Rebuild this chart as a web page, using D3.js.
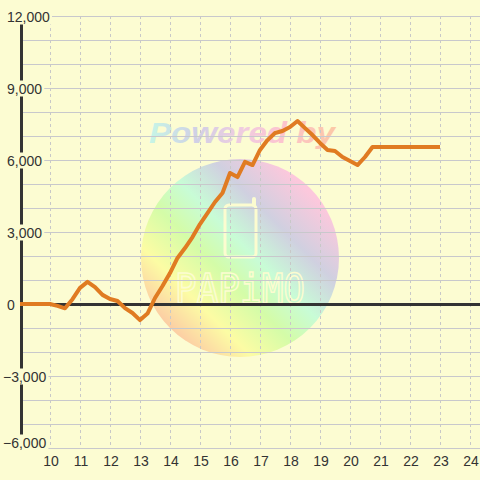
<!DOCTYPE html>
<html><head><meta charset="utf-8">
<script src="https://cdn.jsdelivr.net/npm/d3@7"></script>
<style>html,body{margin:0;padding:0;background:#fcfcd2;}svg{display:block;}</style>
</head><body><svg id="c" width="480" height="480"></svg>
<script>
const times = [9.0, 10.0, 10.25, 10.5, 10.75, 11.0, 11.25, 11.5, 11.75, 12.0, 12.25, 12.5, 12.75, 13.0,
  13.25, 13.5, 13.75, 14.0, 14.25, 14.5, 14.75, 15.0, 15.25, 15.5, 15.75, 16.0, 16.25, 16.5, 16.75,
  17.0, 17.25, 17.5, 17.75, 18.0, 18.25, 18.5, 18.75, 19.0, 19.25, 19.5, 19.75, 20.0, 20.25, 20.5,
  20.75, 21.0, 22.0, 23.0];
const values = [0, 0, -80, -180, 200, 670, 920, 700, 380, 210, 125, -170, -375, -670,
  -400, 250, 750, 1290, 1920, 2330, 2790, 3330, 3790, 4250, 4625, 5460, 5290, 5920, 5790,
  6420, 6830, 7125, 7210, 7375, 7625, 7330, 7040, 6710, 6420, 6375, 6125, 5960, 5790, 6125,
  6540, 6540, 6540, 6540];
const xTicks = [10, 11, 12, 13, 14, 15, 16, 17, 18, 19, 20, 21, 22, 23, 24];
const yLabelTicks = [12000, 9000, 6000, 3000, 0, -3000, -6000];
const yGridTicks = [-6000, -5000, -4000, -3000, -2000, -1000, 0, 1000, 2000, 3000, 4000, 5000,
  6000, 7000, 8000, 9000, 10000, 11000, 12000];

const bg = "#fcfcd2";
const svg = d3.select("#c");
const x = d3.scaleLinear().domain([9, 24.3333]).range([20, 480]);
const y = d3.scaleLinear().domain([-6000, 12000]).range([448, 16]);

svg.append("rect").attr("width", 480).attr("height", 480).attr("fill", bg);

// watermark
const defs = svg.append("defs");
const cg = defs.append("linearGradient").attr("id", "cg")
  .attr("x1", 0).attr("y1", 1).attr("x2", 1).attr("y2", 0);
[[0.12, "#fcc4a4"], [0.28, "#fcfca4"], [0.42, "#d4fca8"], [0.54, "#c8fcd6"],
 [0.68, "#d0d0e0"], [0.84, "#fcc8dc"]].forEach(([o, c]) =>
  cg.append("stop").attr("offset", o).attr("stop-color", c));
const tg = defs.append("linearGradient").attr("id", "tg")
  .attr("x1", 0).attr("y1", 0).attr("x2", 1).attr("y2", 0);
[[0, "#c6f6e6"], [0.25, "#d0d0e6"], [0.5, "#f0cce0"], [0.7, "#fcc4d0"], [1, "#fcc8a4"]]
  .forEach(([o, c]) => tg.append("stop").attr("offset", o).attr("stop-color", c));

const wm = svg.append("g");
wm.append("circle").attr("cx", 240).attr("cy", 258).attr("r", 99).attr("fill", "url(#cg)");
wm.append("rect").attr("x", 225).attr("y", 205).attr("width", 31).attr("height", 52)
  .attr("rx", 4).attr("fill", "none").attr("stroke", "#fcfcd0").attr("stroke-width", 3);
wm.append("path").attr("d", "M254,205 V199").attr("stroke", "#fcfcd0")
  .attr("stroke-width", 4).attr("stroke-linecap", "round");
wm.append("text").attr("x", 175).attr("y", 303).text("PAPiMO")
  .attr("font-family", "DejaVu Sans Mono").attr("font-size", 40)
  .attr("textLength", 130).attr("lengthAdjust", "spacingAndGlyphs")
  .attr("fill", "none").attr("stroke", "#fcfcd0").attr("stroke-width", 1.6);
wm.append("text").attr("x", 149).attr("y", 143).text("Powered by")
  .attr("font-family", "Liberation Sans, Arial").attr("font-size", 30)
  .attr("font-weight", "bold").attr("font-style", "italic")
  .attr("textLength", 186).attr("lengthAdjust", "spacingAndGlyphs")
  .attr("fill", "url(#tg)");

// grid
svg.append("g").selectAll("line").data(yGridTicks).join("line")
  .attr("x1", 20).attr("x2", 480).attr("y1", d => y(d) + 0.5).attr("y2", d => y(d) + 0.5)
  .attr("stroke", "#c8c8cc").attr("stroke-width", 1);
svg.append("g").selectAll("line").data(xTicks).join("line")
  .attr("x1", d => x(d) + 0.5).attr("x2", d => x(d) + 0.5).attr("y1", 16).attr("y2", 448)
  .attr("stroke", "#c8c8c8").attr("stroke-width", 1).attr("stroke-dasharray", "3,3");

// zero line and y axis line
svg.append("line").attr("x1", 20).attr("x2", 480).attr("y1", y(0) + 0.5).attr("y2", y(0) + 0.5)
  .attr("stroke", "#333").attr("stroke-width", 3);
svg.append("line").attr("x1", 21.5).attr("x2", 21.5).attr("y1", 16).attr("y2", 448)
  .attr("stroke", "#333").attr("stroke-width", 3);

// data line
svg.append("path").datum(times.map((t, i) => [t, values[i]]))
  .attr("d", d3.line().x(d => x(d[0])).y(d => y(d[1])))
  .attr("fill", "none").attr("stroke", "#e07b22").attr("stroke-width", 4)
  .attr("stroke-linejoin", "round").attr("stroke-linecap", "butt");

// y labels with background
const fmt = d3.format(",");
const yl = svg.append("g");
yLabelTicks.forEach(v => {
  const g = yl.append("g");
  const r = g.append("rect").attr("fill", bg);
  const ly = Math.min(y(v), 442);
  const t = g.append("text").attr("x", v < 0 ? 3 : 7).attr("y", ly + 5.5)
    .attr("font-family", "Liberation Sans, Arial").attr("font-size", 14)
    .attr("fill", "#333").text(fmt(v));
  const b = t.node().getBBox();
  if (v !== 0) r.attr("x", b.x - 2).attr("y", b.y).attr("width", b.width + 4).attr("height", b.height);
});

// x labels
svg.append("g").selectAll("text").data(xTicks).join("text")
  .attr("x", d => x(d) + 1).attr("y", 466).attr("text-anchor", "middle")
  .attr("font-family", "Liberation Sans, Arial").attr("font-size", 14)
  .attr("fill", "#333").text(d => d);
</script></body></html>
